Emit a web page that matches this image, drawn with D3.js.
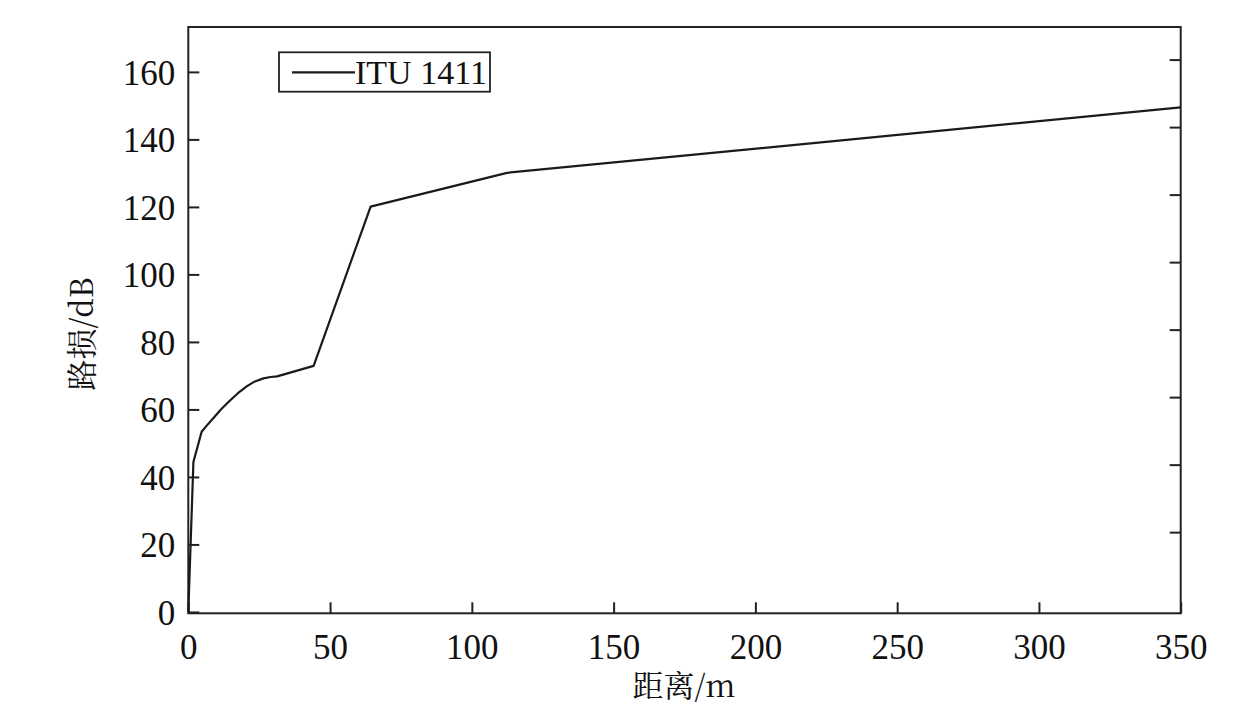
<!DOCTYPE html>
<html><head><meta charset="utf-8">
<script src="https://cdn.jsdelivr.net/npm/d3@7"></script>
<style>body{margin:0;background:#fff}svg{display:block}</style>
</head><body>
<svg id="c" width="1244" height="723"></svg>
<script>
const distance = [0, 1.8, 4.7, 6.5, 8.8, 11.5, 14.8, 17.5, 20.7, 23.5, 26.5, 29.0, 31.3, 44.2, 64.3, 112.4, 350];
const pathLoss = [0, 44.4, 53.4, 55.2, 57.4, 60.0, 62.7, 64.8, 66.9, 68.3, 69.2, 69.6, 69.8, 72.9, 120.1, 130.1, 149.5];
const xTicks = [0, 50, 100, 150, 200, 250, 300, 350];
const yTicks = [0, 20, 40, 60, 80, 100, 120, 140, 160];
const seriesName = "ITU 1411";
const xLabel = "距离/m";
const yLabel = "路损/dB";

const svg = d3.select("#c");
const L = 188.3, R = 1180.7, T = 27, B = 613.3;
const x = d3.scaleLinear().domain([0, 350]).range([L, R]);
const y = d3.scaleLinear().domain([-0.4, 173.3]).range([B, T]);
const font = "'Liberation Serif','Times New Roman',serif";
const cjk = "'Noto Serif CJK SC','Noto Sans CJK SC','Liberation Serif',serif";

// axes
const xAxis = d3.axisBottom(x).tickValues(xTicks).tickSize(-11).tickPadding(21).tickFormat(d3.format("d"));
const gx = svg.append("g").attr("transform", `translate(0,${B})`).call(xAxis);
const yAxis = d3.axisLeft(y).tickValues(yTicks).tickSize(-11).tickPadding(13).tickFormat(d3.format("d"));
const gy = svg.append("g").attr("transform", `translate(${L},0)`).call(yAxis);
[gx, gy].forEach(g => {
  g.select(".domain").remove();
  g.selectAll(".tick line").attr("stroke", "#222").attr("stroke-width", 2);
  g.selectAll(".tick text").attr("fill", "#111").style("font-family", font).style("font-size", "35px");
});
gy.selectAll(".tick text").attr("dy", "0.35em");
// right side ticks
const yR = y.copy().range([B - 12.3, T - 12.3]);
const gr = svg.append("g").attr("transform", `translate(${R},0)`)
  .call(d3.axisRight(yR).tickValues(yTicks.slice(1)).tickSize(-11).tickFormat(""));
gr.select(".domain").remove();
gr.selectAll(".tick line").attr("stroke", "#222").attr("stroke-width", 2);

// frame
svg.append("rect").attr("x", L).attr("y", T).attr("width", R - L).attr("height", B - T)
  .attr("fill", "none").attr("stroke", "#222").attr("stroke-width", 2);

// line
const line = d3.line().x((d, i) => x(distance[i])).y(d => y(d));
svg.append("path").datum(pathLoss).attr("d", line)
  .attr("fill", "none").attr("stroke", "#1a1a1a").attr("stroke-width", 2.2).attr("stroke-linejoin", "round");

// legend
svg.append("rect").attr("x", 279).attr("y", 52.3).attr("width", 211).attr("height", 39.4)
  .attr("fill", "#fff").attr("stroke", "#222").attr("stroke-width", 1.8);
svg.append("line").attr("x1", 292).attr("x2", 355).attr("y1", 72.3).attr("y2", 72.3)
  .attr("stroke", "#1a1a1a").attr("stroke-width", 2.2);
svg.append("text").attr("x", 355).attr("y", 72.3).attr("dy", "0.35em").text(seriesName)
  .style("font-family", font).style("font-size", "34px").attr("fill", "#111");

// axis titles
svg.append("text").attr("x", 684).attr("y", 686).attr("dy", "0.35em").attr("text-anchor", "middle")
  .text(xLabel).style("font-family", cjk).style("font-size", "31px").attr("fill", "#111");
svg.append("text").attr("transform", "translate(82,334) rotate(-90)").attr("dy", "0.35em").attr("text-anchor", "middle")
  .text(yLabel).style("font-family", cjk).style("font-size", "31px").attr("fill", "#111");
</script>
</body></html>
